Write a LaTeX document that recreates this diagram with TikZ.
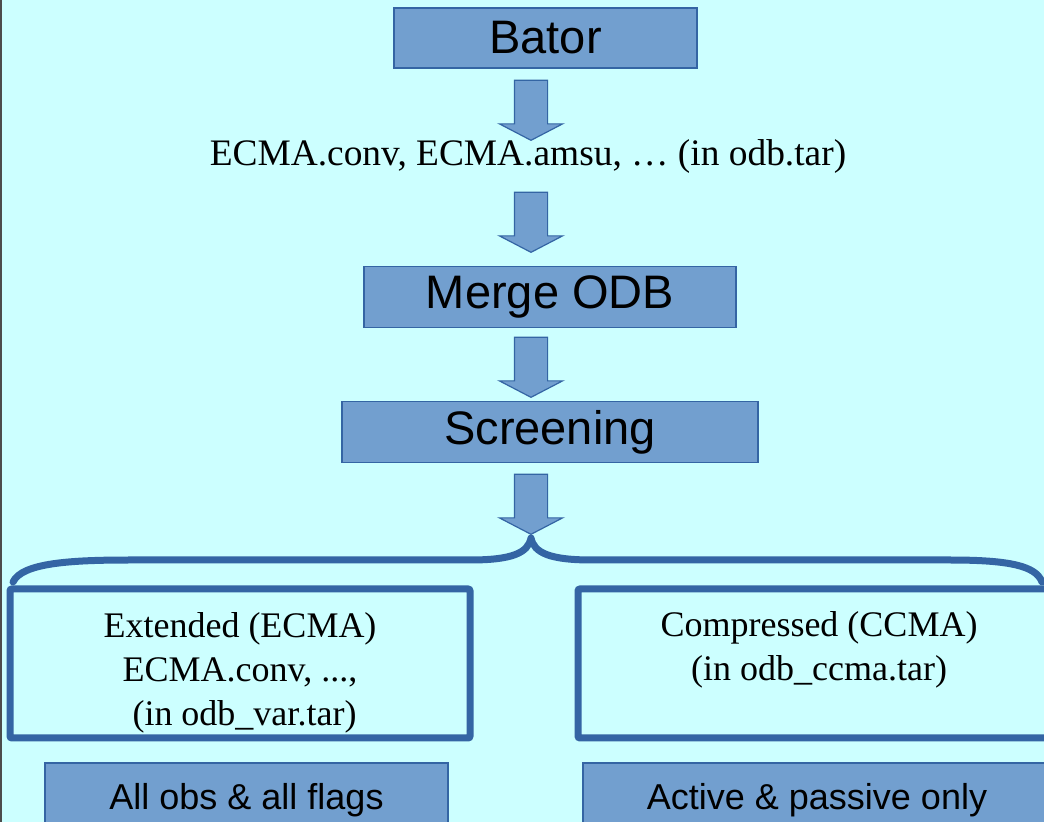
\documentclass[tikz,border=0pt]{standalone}
\usepackage{fontspec}
\setmainfont{Liberation Serif}
\newfontfamily\arialfont{Liberation Sans}
\usetikzlibrary{shapes.arrows}
\definecolor{bgcyan}{RGB}{204,255,255}
\definecolor{boxblue}{RGB}{114,159,207}
\definecolor{lineblue}{RGB}{52,101,164}
\begin{document}
\begin{tikzpicture}[
				x=0.5pt, y=-0.5pt,
				stage/.style = {draw=lineblue, line width=0.6pt, fill=boxblue, inner sep=0pt,
						font=\arialfont\fontsize{23.5}{28}\selectfont},
				result/.style = {stage, font=\arialfont\fontsize{18}{22}\selectfont},
				archive/.style = {draw=lineblue, line width=3.5pt, rounded corners=1pt, inner sep=0pt,
						align=center, font=\fontsize{18}{22}\selectfont},
				flow/.style = {single arrow, draw=lineblue, line width=0.6pt, fill=boxblue, rotate=-90,
						minimum height=30pt, minimum width=31pt, inner sep=8pt,
						single arrow head extend=7.5pt, single arrow tip angle=125},
			]
			\useasboundingbox (0,0) rectangle (1044,822);
			\fill[bgcyan] (0,0) rectangle (1044,822);
			\draw[black!70, line width=0.8pt] (1,0) -- (1,822);
			% main chain
			\node[stage, minimum width=151.5pt, minimum height=30pt] (bator) at (545.5,38) {Bator};
			\node[flow] (arrA) at (531,106) {};
			\node[font=\fontsize{18.7}{22}\selectfont] (odbfiles) at (528,157) {ECMA.conv, ECMA.amsu, … (in odb.tar)};
			\node[flow] (arrB) at (531,218) {};
			\node[stage, minimum width=186pt, minimum height=30.5pt] (merge) at (550,297) {Merge ODB};
			\node[flow] (arrC) at (531,363) {};
			\node[stage, minimum width=208pt, minimum height=30.5pt] (screen) at (550,432) {Screening};
			\node[flow] (arrD) at (531,500) {};
			% split
			\coordinate (braceL) at (13,582);
			\coordinate (cusp) at (531,538);
			\coordinate (braceR) at (1042,582);
			\draw[lineblue, line width=3.5pt, line cap=round, line join=round]
				(braceL) .. controls (22,563) and (70,560) .. (130,560) -- (470,560)
				.. controls (512,560) and (528,553) .. (cusp)
				.. controls (534,553) and (550,560) .. (592,560) -- (950,560)
				.. controls (1010,560) and (1036,566) .. (braceR);
			\node[archive, minimum width=230pt, minimum height=74.5pt] (ecma) at (240,663.5)
				{\rule{0pt}{21.4pt}Extended (ECMA)\\ECMA.conv, ...,\\\mbox{\ (in odb\_var.tar)}};
			\node[archive, minimum width=241pt, minimum height=74.5pt, text depth=17pt] (ccma) at (819,663.5)
				{Compressed (CCMA)\\(in odb\_ccma.tar)};
			\node[result, minimum width=201.5pt, minimum height=37pt] (allobs) at (246.5,800) {All obs \& all flags};
			\node[result, minimum width=234pt, minimum height=37pt] (active) at (817,800) {Active \& passive only};
		\end{tikzpicture}
\end{document}
